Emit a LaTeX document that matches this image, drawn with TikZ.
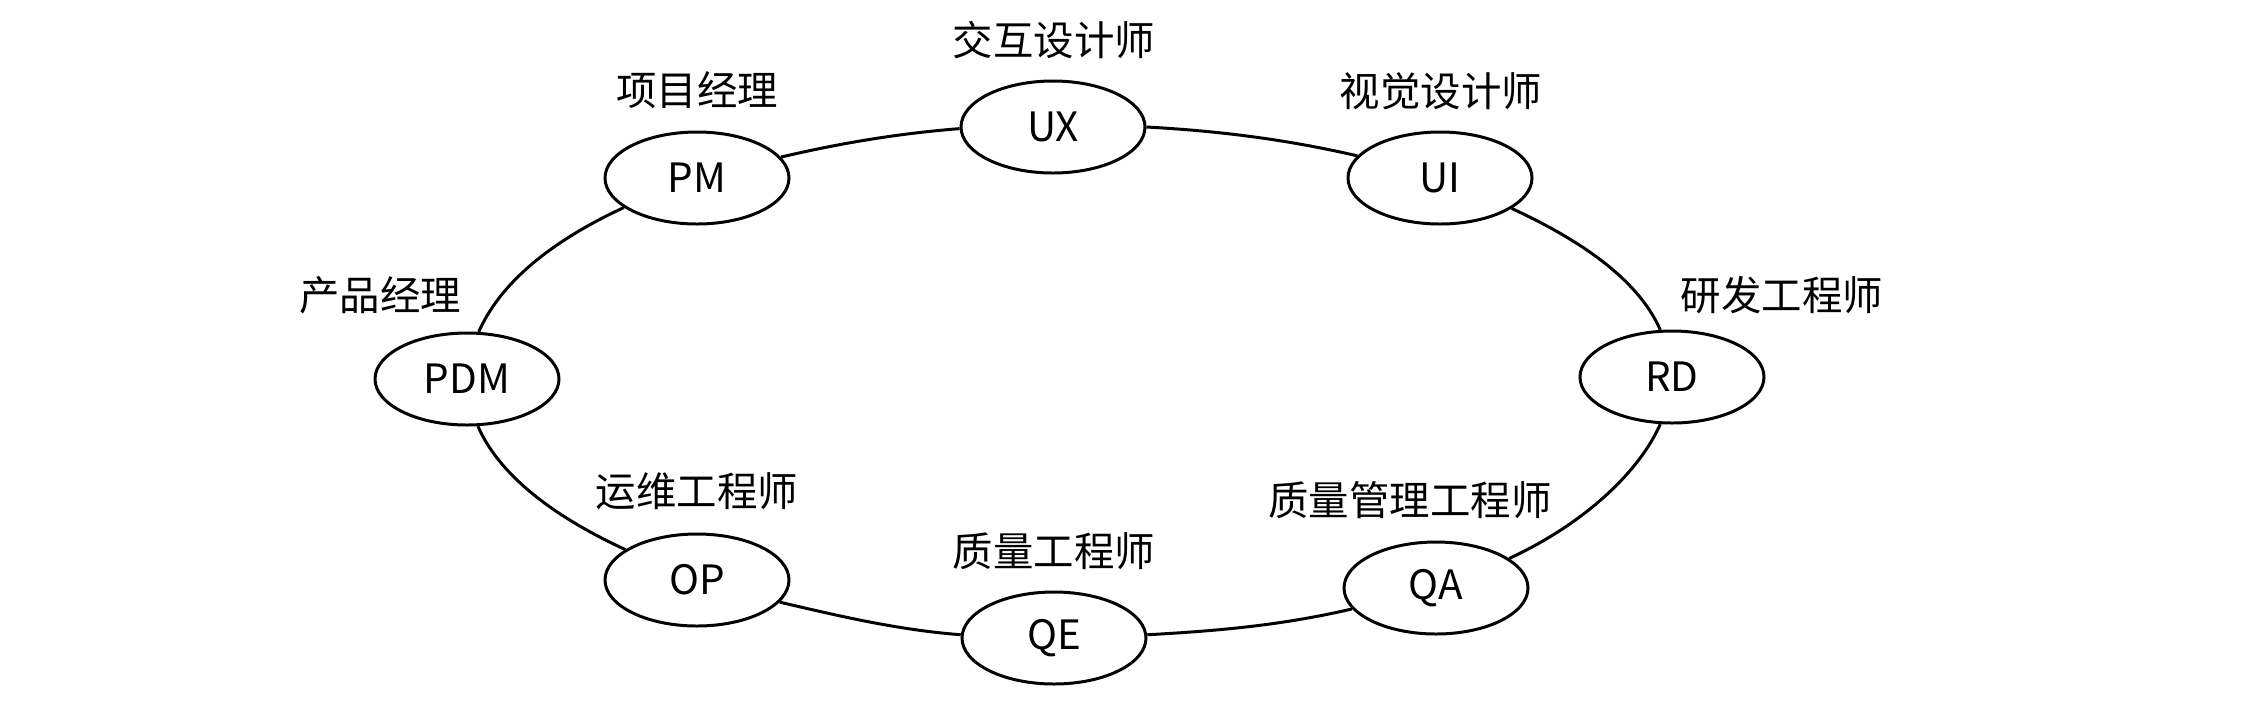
\documentclass[tikz,border=0pt]{standalone}
\usepackage{fontspec}
\setmainfont{Noto Sans CJK SC}
\usepackage{tikz}
\usetikzlibrary{
    shapes.geometric,
    positioning
}
\newcommand{\rolefont}{\fontsize{11.5pt}{13pt}\selectfont}
\tikzset{
    % Role ellipse
    rolenode/.style={
        ellipse,
        draw=black,
        line width=0.85pt,
        fill=white,
        font=\rolefont,
        minimum width=1.84cm,
        minimum height=0.92cm,
        inner sep=0pt
    },
    % Role caption
    rolelabel/.style={
        font=\rolefont,
        inner sep=0pt
    },
    % Ring link
    rolelink/.style={
        draw=black,
        line width=0.85pt
    }
}

\begin{document}
\begin{tikzpicture}
    \useasboundingbox (0,0) rectangle (22.48,7.00);

    % Roles
    \node[rolenode] (ux) at (10.53, 5.73) {UX};
    \node[rolenode] (pm) at (6.97, 5.22) {PM};
    \node[rolenode] (ui) at (14.40, 5.22) {UI};
    \node[rolenode] (pdm) at (4.67, 3.21) {PDM};
    \node[rolenode] (rd) at (16.72, 3.23) {RD};
    \node[rolenode] (op) at (6.97, 1.20) {OP};
    \node[rolenode] (qe) at (10.54, 0.62) {QE};
    \node[rolenode] (qa) at (14.36, 1.12) {QA};

    % Captions
    \node[rolelabel] (ux-lbl) at (10.54, 6.60) {交互设计师};
    \node[rolelabel] (pm-lbl) at (6.97, 6.10) {项目经理};
    \node[rolelabel] (ui-lbl) at (14.41, 6.09) {视觉设计师};
    \node[rolelabel] (pdm-lbl) at (3.80, 4.05) {产品经理};
    \node[rolelabel] (rd-lbl) at (17.82, 4.05) {研发工程师};
    \node[rolelabel] (op-lbl) at (6.97, 2.09) {运维工程师};
    \node[rolelabel] (qe-lbl) at (10.54, 1.49) {质量工程师};
    \node[rolelabel] (qa-lbl) at (14.10, 2.00) {质量管理工程师};

    % Ring (arcs of one big ellipse)
    \draw[rolelink] (rd.104) to[out=113.6, in=335.2, out distance=0.51cm, in distance=0.84cm] (ui.337);
    \draw[rolelink] (ui.165.5) to[out=166.9, in=356.9, out distance=0.69cm, in distance=0.76cm] (ux.0);
    \draw[rolelink] (ux.181) to[out=184.5, in=13.2, out distance=0.64cm, in distance=0.58cm] (pm.14.5);
    \draw[rolelink] (pm.202.7) to[out=204.8, in=66.4, out distance=0.84cm, in distance=0.51cm] (pdm.76.3);
    \draw[rolelink] (pdm.283.7) to[out=293.6, in=155.2, out distance=0.51cm, in distance=0.84cm] (op.157.3);
    \draw[rolelink] (op.345.5) to[out=346.9, in=175.6, out distance=0.59cm, in distance=0.64cm] (qe.178);
    \draw[rolelink] (qe.2) to[out=3.1, in=193.1, out distance=0.76cm, in distance=0.69cm] (qa.194.5);
    \draw[rolelink] (qa.22.7) to[out=24.8, in=246.4, out distance=0.84cm, in distance=0.51cm] (rd.256.3);

\end{tikzpicture}
\end{document}
